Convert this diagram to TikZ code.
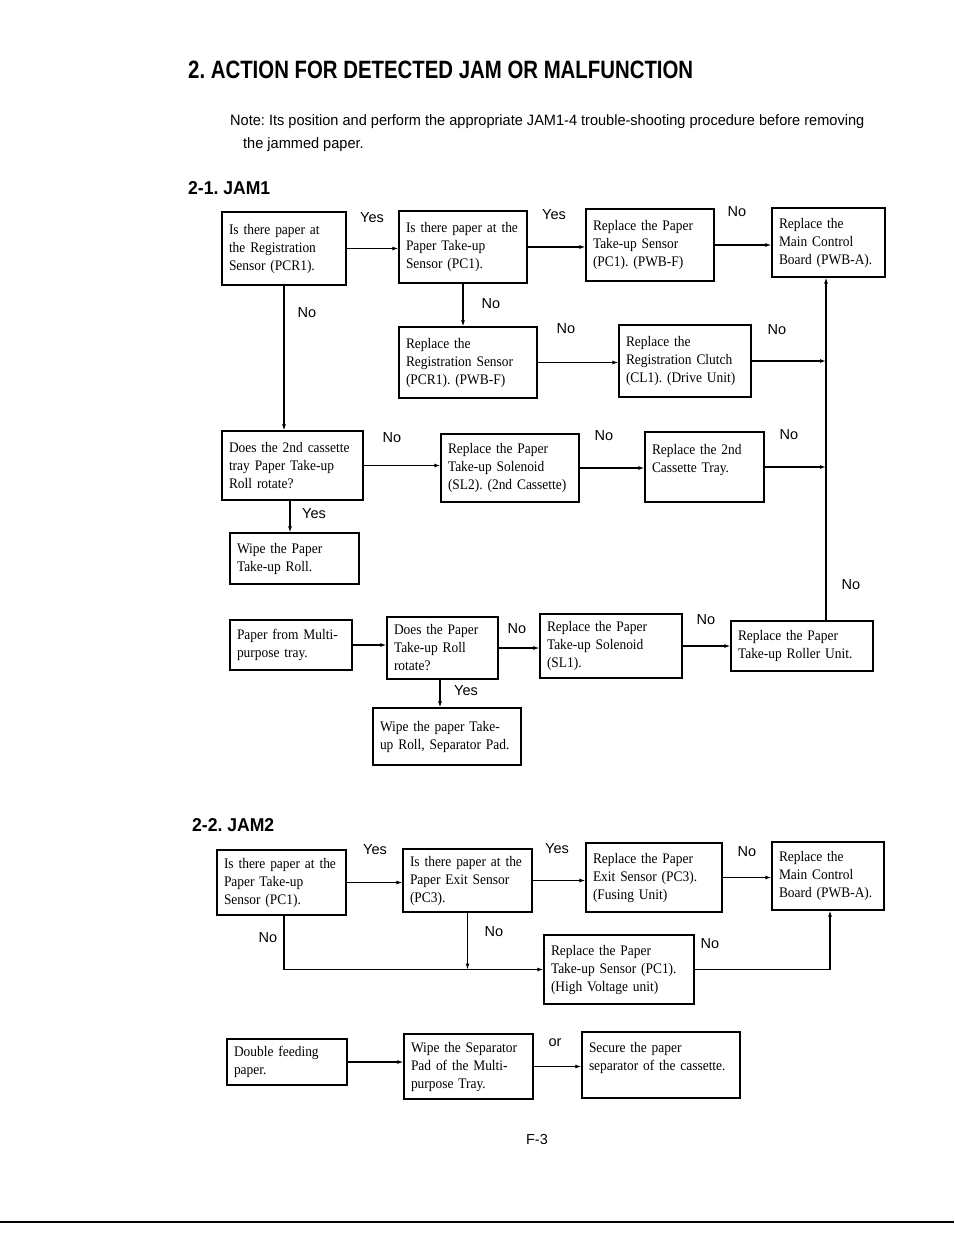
\documentclass[tikz,border=0pt]{standalone}
\usepackage{fontspec}
\setmainfont{Liberation Serif}[FakeStretch=0.92]
\setsansfont{Liberation Sans}
\usetikzlibrary{arrows.meta}
\frenchspacing
\begin{document}
\begin{tikzpicture}[x=1pt,y=-1pt,
  box/.style={draw, line width=1.3pt, inner xsep=7pt, inner ysep=0pt, align=left,
              font=\frenchspacing\fontsize{14.6}{18}\selectfont},
  lbl/.style={font=\sffamily\fontsize{14.5}{16}\selectfont, inner sep=0pt},
  conn/.style={line width=1.1pt, -{Latex[length=6pt,width=4pt]}}]
\useasboundingbox (0,0) rectangle (954,1235);

% headings
\node[anchor=west, inner sep=0pt] (title) at (188,70)
  {\resizebox{505pt}{17.5pt}{\sffamily\bfseries 2. ACTION FOR DETECTED JAM OR MALFUNCTION}};
\node[anchor=base west, inner sep=0pt] (note1) at (230,125)
  {\sffamily\fontsize{15}{18}\selectfont\scalebox{0.97}[1]{Note: Its position and perform the appropriate JAM1-4 trouble-shooting procedure before removing}};
\node[anchor=base west, inner sep=0pt] (note2) at (243,148)
  {\sffamily\fontsize{15}{18}\selectfont\scalebox{0.97}[1]{the jammed paper.}};
\node[anchor=west, inner sep=0pt] (jam1) at (188,188)
  {\resizebox{82pt}{13pt}{\sffamily\bfseries 2-1. JAM1}};
\node[anchor=west, inner sep=0pt] (jam2) at (192,825)
  {\resizebox{82pt}{13pt}{\sffamily\bfseries 2-2. JAM2}};
\node[lbl] (page) at (537,1139) {F-3};

% JAM1 boxes
\node[box, minimum width=124pt, minimum height=73pt, text width=110pt] (A1) at (284,248.5)
  {Is there paper at\\the Registration\\Sensor (PCR1).};
\node[box, minimum width=128pt, minimum height=72pt, text width=114pt] (B1) at (463,247)
  {Is there paper at the\\Paper Take-up\\Sensor (PC1).};
\node[box, minimum width=128pt, minimum height=72pt, text width=114pt] (C1) at (650,245)
  {Replace the Paper\\Take-up Sensor\\(PC1). (PWB-F)};
\node[box, minimum width=113pt, minimum height=69pt, text width=99pt] (D1) at (828.5,242.5)
  {Replace the\\Main Control\\Board (PWB-A).};
\node[box, minimum width=138pt, minimum height=71pt, text width=124pt] (E1) at (468,362.5)
  {Replace the\\Registration Sensor\\(PCR1). (PWB-F)};
\node[box, minimum width=132pt, minimum height=72pt, text width=118pt] (F1) at (685,361)
  {Replace the\\Registration Clutch\\(CL1). (Drive Unit)};
\node[box, minimum width=141pt, minimum height=69pt, text width=127pt] (G1) at (292.5,465.5)
  {Does the 2nd cassette\\tray Paper Take-up\\Roll rotate?};
\node[box, minimum width=138pt, minimum height=68pt, text width=124pt] (H1) at (510,468)
  {Replace the Paper\\Take-up Solenoid\\(SL2). (2nd Cassette)};
\node[box, minimum width=119pt, minimum height=70pt, text width=105pt] (I1) at (704.5,467)
  {Replace the 2nd\\Cassette Tray.\\\mbox{}};
\node[box, minimum width=129pt, minimum height=51pt, text width=115pt] (J1) at (294.5,558.5)
  {Wipe the Paper\\Take-up Roll.};
\node[box, minimum width=122pt, minimum height=50pt, text width=108pt] (K1) at (291,645)
  {Paper from Multi-\\purpose tray.};
\node[box, minimum width=111pt, minimum height=62pt, text width=97pt] (L1) at (442.5,648)
  {Does the Paper\\Take-up Roll\\rotate?};
\node[box, minimum width=142pt, minimum height=64pt, text width=128pt] (M1) at (611,646)
  {Replace the Paper\\Take-up Solenoid\\(SL1).};
\node[box, minimum width=142pt, minimum height=50pt, text width=128pt] (N1) at (802,646)
  {Replace the Paper\\Take-up Roller Unit.};
\node[box, minimum width=148pt, minimum height=57pt, text width=134pt] (O1) at (447,736.5)
  {Wipe the paper Take-\\up Roll, Separator Pad.};

% JAM1 connectors
\coordinate (vl) at (826,0);
\draw[conn] (A1.east) -- (A1.east -| B1.west);
\draw[conn] (B1.east) -- (B1.east -| C1.west);
\draw[conn] (C1.east) -- (C1.east -| D1.west);
\draw[conn] (B1.south) -- (B1.south |- E1.north);
\draw[conn] (E1.east) -- (E1.east -| F1.west);
\draw[conn] (F1.east) -- (F1.east -| vl);
\draw[conn] (N1.north -| vl) -- (D1.south -| vl);
\draw[conn] (I1.east) -- (I1.east -| vl);
\draw[conn] (A1.south) -- (A1.south |- G1.north);
\draw[conn] (G1.east) -- (G1.east -| H1.west);
\draw[conn] (H1.east) -- (H1.east -| I1.west);
\draw[conn] ([xshift=-2.5pt]G1.south) -- ([xshift=-2.5pt]G1.south |- J1.north);
\draw[conn] (K1.east) -- (K1.east -| L1.west);
\draw[conn] (L1.east) -- (L1.east -| M1.west);
\draw[conn] (M1.east) -- (M1.east -| N1.west);
\draw[conn] ([xshift=-2.5pt]L1.south) -- ([xshift=-2.5pt]L1.south |- O1.north);

% JAM1 labels
\node[lbl] (y1) at (372,218) {Yes};
\node[lbl] (y2) at (554,215) {Yes};
\node[lbl] (n1) at (737,212) {No};
\node[lbl] (n2) at (491,304) {No};
\node[lbl] (n3) at (566,329) {No};
\node[lbl] (n4) at (777,330) {No};
\node[lbl] (n5) at (307,313) {No};
\node[lbl] (n6) at (392,438) {No};
\node[lbl] (n7) at (604,436) {No};
\node[lbl] (n8) at (789,435) {No};
\node[lbl] (y3) at (314,514) {Yes};
\node[lbl] (n9) at (851,585) {No};
\node[lbl] (n10) at (517,629) {No};
\node[lbl] (n11) at (706,620) {No};
\node[lbl] (y4) at (466,691) {Yes};

% JAM2 boxes
\node[box, minimum width=129pt, minimum height=65pt, text width=115pt] (A2) at (281.5,882.5)
  {Is there paper at the\\Paper Take-up\\Sensor (PC1).};
\node[box, minimum width=129pt, minimum height=63pt, text width=115pt] (B2) at (467.5,880.5)
  {Is there paper at the\\Paper Exit Sensor\\(PC3).};
\node[box, minimum width=136pt, minimum height=69pt, text width=122pt] (C2) at (654,877.5)
  {Replace the Paper\\Exit Sensor (PC3).\\(Fusing Unit)};
\node[box, minimum width=112pt, minimum height=68pt, text width=98pt] (D2) at (828,876)
  {Replace the\\Main Control\\Board (PWB-A).};
\node[box, minimum width=150pt, minimum height=69pt, text width=136pt] (E2) at (619,969.5)
  {Replace the Paper\\Take-up Sensor (PC1).\\(High Voltage unit)};
\node[box, minimum width=120pt, minimum height=46pt, text width=106pt] (F2) at (287,1062)
  {Double feeding\\paper.};
\node[box, minimum width=129pt, minimum height=65pt, text width=115pt] (G2) at (468.5,1066.5)
  {Wipe the Separator\\Pad of the Multi-\\purpose Tray.};
\node[box, minimum width=158pt, minimum height=66pt, text width=144pt] (H2) at (661,1065)
  {Secure the paper\\separator of the cassette.\\\mbox{}};

% JAM2 connectors
\draw[conn] (A2.east) -- (A2.east -| B2.west);
\draw[conn] (B2.east) -- (B2.east -| C2.west);
\draw[conn] (C2.east) -- (C2.east -| D2.west);
\draw[conn] ([xshift=2.5pt]A2.south) |- (E2.west);
\draw[conn] (B2.south) -- (B2.south |- E2.west);
\draw[conn] (E2.east) -| ([xshift=2pt]D2.south);
\draw[conn] (F2.east) -- (F2.east -| G2.west);
\draw[conn] (G2.east) -- (G2.east -| H2.west);

% JAM2 labels
\node[lbl] (y5) at (375,850) {Yes};
\node[lbl] (y6) at (557,849) {Yes};
\node[lbl] (n12) at (747,852) {No};
\node[lbl] (n13) at (268,938) {No};
\node[lbl] (n14) at (494,932) {No};
\node[lbl] (n15) at (710,944) {No};
\node[lbl] (or1) at (555,1043) {or};

% bottom rule of the page
\draw[line width=1.5pt] (0,1222) -- (954,1222);
\end{tikzpicture}
\end{document}
